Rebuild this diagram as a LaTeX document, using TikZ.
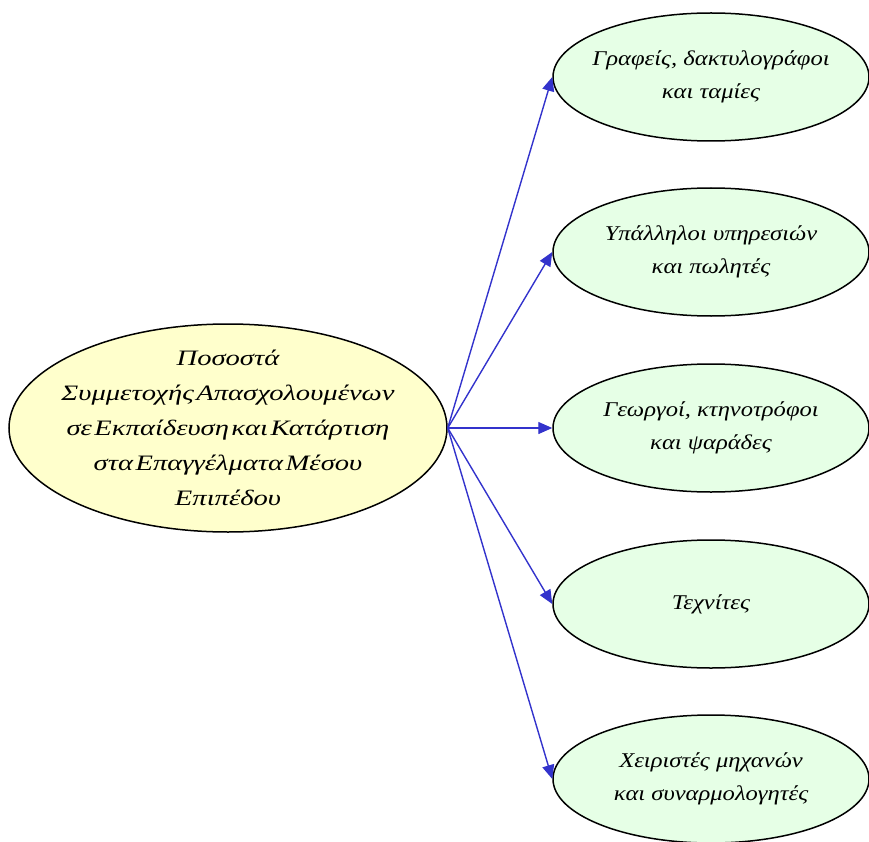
\documentclass[tikz,border=0pt]{standalone}
\usepackage{fontspec}
\setmainfont{Liberation Serif}
\newfontfamily\hubfont{Liberation Serif}[FakeStretch=1.3, WordSpace=0.35]
\newfontfamily\leaffont{Liberation Serif}[FakeStretch=1.17]
\usetikzlibrary{shapes.geometric,arrows.meta}
\definecolor{hubfill}{RGB}{255,255,204}
\definecolor{leaffill}{RGB}{230,255,230}
\definecolor{linkblue}{RGB}{51,51,204}
\tikzset{
  hub/.style={ellipse, draw=black, line width=1.5pt, fill=hubfill,
    minimum width=438pt, minimum height=208pt,
    inner xsep=-80pt, inner ysep=-50pt,
    align=center, font=\hubfont\fontsize{22}{35}\selectfont\itshape},
  leaf/.style={ellipse, draw=black, line width=1.5pt, fill=leaffill,
    minimum width=316pt, minimum height=128pt,
    inner xsep=-60pt, inner ysep=-30pt,
    align=center, font=\leaffont\fontsize{21}{33}\selectfont\itshape},
  link/.style={draw=linkblue, line width=1.4pt,
    -{Triangle[length=14pt,width=12pt]}}
}
\begin{document}
\begin{tikzpicture}[x=1pt,y=-1pt]
\useasboundingbox (0,0) rectangle (869,842);
\node[hub] (hub) at (228,428) {Ποσοστά\\Συμμετοχής Απασχολουμένων\\σε Εκπαίδευση και Κατάρτιση\\στα Επαγγέλματα Μέσου\\Επιπέδου};
\node[leaf] (l1) at (711,77) {Γραφείς, δακτυλογράφοι\\και ταμίες};
\node[leaf] (l2) at (711,252) {Υπάλληλοι υπηρεσιών\\και πωλητές};
\node[leaf] (l3) at (711,428) {Γεωργοί, κτηνοτρόφοι\\και ψαράδες};
\node[leaf] (l4) at (711,604) {Τεχνίτες};
\node[leaf] (l5) at (711,779) {Χειριστές μηχανών\\και συναρμολογητές};
\foreach \n in {l1,l2,l3,l4,l5}
  \draw[link] (hub.east) -- (\n.west);
\end{tikzpicture}
\end{document}
